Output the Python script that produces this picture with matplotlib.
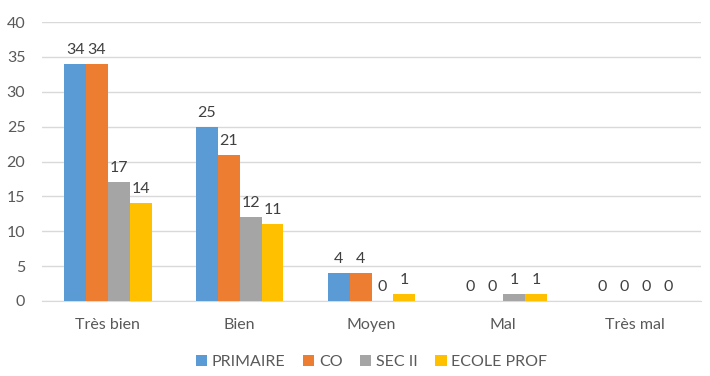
import matplotlib.pyplot as plt
import numpy as np

plt.rcParams['font.family'] = ['Lato', 'DejaVu Sans']

categories = ["Très bien", "Bien", "Moyen", "Mal", "Très mal"]
series = ["PRIMAIRE", "CO", "SEC II", "ECOLE PROF"]
primaire = [34, 25, 4, 0, 0]
co = [34, 21, 4, 0, 0]
sec2 = [17, 12, 0, 1, 0]
ecole_prof = [14, 11, 1, 1, 0]
values = [primaire, co, sec2, ecole_prof]
colors = ["#5B9BD5", "#ED7D31", "#A5A5A5", "#FFC000"]

fig = plt.figure(figsize=(7.1, 3.76), dpi=100)
ax = fig.add_axes([42 / 710, 1 - 301 / 376, 659 / 710, 279 / 376])

x = np.arange(len(categories))
w = 0.166
for i, (name, vals) in enumerate(zip(series, values)):
    pos = x + (i - 1.5) * w
    ax.bar(pos, vals, width=w, color=colors[i], label=name, zorder=3)
    for p, v in zip(pos, vals):
        ax.text(p, v + 1.0, str(v), ha="center", va="bottom", fontsize=11.5, color="#404040")

ax.set_xlim(-0.5, len(categories) - 0.5)
ax.set_ylim(0, 40)
ax.set_yticks(range(0, 41, 5))
ax.set_xticks(x)
ax.set_xticklabels(categories)
ax.yaxis.grid(True, color="#D9D9D9", linewidth=1, zorder=0)
for s in ["top", "right", "left"]:
    ax.spines[s].set_visible(False)
ax.spines["bottom"].set_color("#D9D9D9")
ax.tick_params(axis="both", length=0, labelsize=11.5, colors="#595959")
ax.tick_params(axis="x", pad=12)
ax.tick_params(axis="y", pad=12)

ax.legend(loc="center", bbox_to_anchor=(0.5, -0.22), ncol=4, frameon=False,
          fontsize=11.5, handlelength=0.7, handleheight=0.7, handletextpad=0.3,
          columnspacing=1.1, labelcolor="#595959")

fig.savefig("out.png", dpi=100)
